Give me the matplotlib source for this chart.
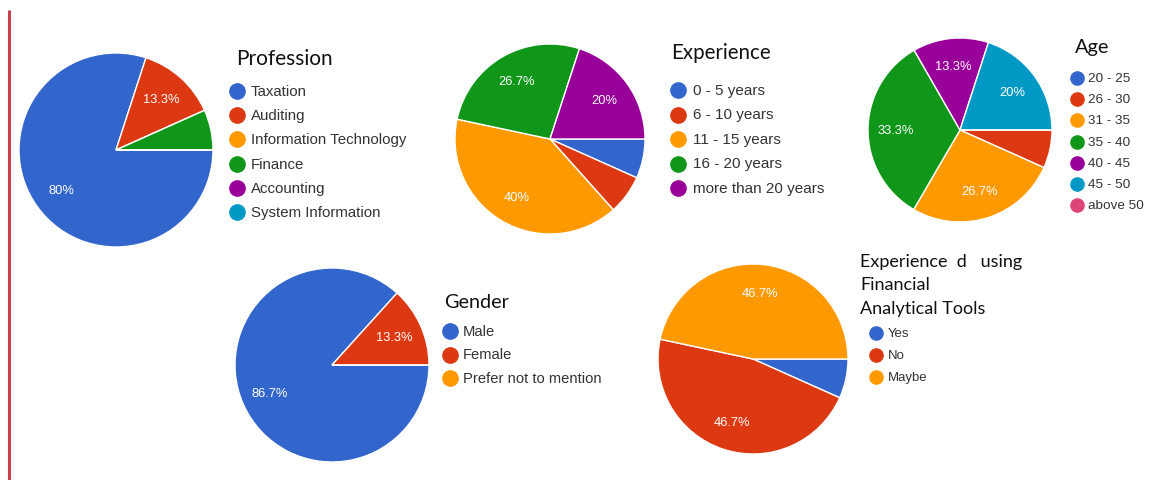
import matplotlib
matplotlib.use("Agg")
import matplotlib.pyplot as plt

W, H = 1155, 481

# Google Forms palette
BLUE, RED, ORANGE, GREEN = "#3366CC", "#DC3912", "#FF9900", "#109618"
PURPLE, TEAL, PINK = "#990099", "#0099C6", "#DD4477"

# Survey results (percent of 15 respondents)
profession_labels = ["Taxation", "Auditing", "Information Technology",
                     "Finance", "Accounting", "System Information"]
profession_values = [80.0, 13.3, 0.0, 6.7, 0.0, 0.0]
profession_colors = [BLUE, RED, ORANGE, GREEN, PURPLE, TEAL]

experience_labels = ["0 - 5 years", "6 - 10 years", "11 - 15 years",
                     "16 - 20 years", "more than 20 years"]
experience_values = [6.7, 6.7, 40.0, 26.7, 20.0]
experience_colors = [BLUE, RED, ORANGE, GREEN, PURPLE]

age_labels = ["20 - 25", "26 - 30", "31 - 35", "35 - 40", "40 - 45",
              "45 - 50", "above 50"]
age_values = [0.0, 6.7, 26.7, 33.3, 13.3, 20.0, 0.0]
age_colors = [BLUE, RED, ORANGE, GREEN, PURPLE, TEAL, PINK]

gender_labels = ["Male", "Female", "Prefer not to mention"]
gender_values = [86.7, 13.3, 0.0]
gender_colors = [BLUE, RED, ORANGE]

tools_labels = ["Yes", "No", "Maybe"]
tools_values = [6.7, 46.7, 46.7]
tools_colors = [BLUE, RED, ORANGE]

TITLE_FONT = "Lato"
BODY_FONT = "Liberation Sans"

fig = plt.figure(figsize=(W / 100, H / 100), dpi=100)
fig.patch.set_facecolor("white")

# pixel-space overlay for legends and the margin rule
overlay = fig.add_axes([0, 0, 1, 1])
overlay.set_xlim(0, W)
overlay.set_ylim(H, 0)
overlay.axis("off")
overlay.plot([9, 9], [11, H], color="#C9414C", lw=2.2, solid_capstyle="butt")


def pct_text(p):
    if p < 10:
        return ""
    s = f"{p:.1f}"
    if s.endswith(".0"):
        s = s[:-2]
    return s + "%"


def draw_pie(values, colors, cx, cy, r):
    ax = fig.add_axes([(cx - r) / W, 1 - (cy + r) / H, 2 * r / W, 2 * r / H])
    ax.pie(values, colors=colors, startangle=0, counterclock=False,
           radius=1.0, autopct=pct_text, pctdistance=0.70,
           wedgeprops=dict(edgecolor="white", linewidth=1.0),
           textprops=dict(color="white", fontsize=9.3, family=BODY_FONT))
    ax.set_xlim(-1.0, 1.0)
    ax.set_ylim(-1.0, 1.0)
    ax.axis("off")


def draw_legend(title_lines, labels, colors, tx, ty, mx, lx, y0, dy,
                title_size=14.5, text_size=10.8, ms=11, title_dy=23.5):
    for i, line in enumerate(title_lines):
        overlay.text(tx, ty + i * title_dy, line, fontsize=title_size,
                     family=TITLE_FONT, color="#111111", va="center", ha="left")
    for i, (lab, col) in enumerate(zip(labels, colors)):
        y = y0 + i * dy
        overlay.plot([mx], [y], marker="o", ms=ms, color=col, mec=col)
        overlay.text(lx, y, lab, fontsize=text_size, family=BODY_FONT,
                     color="#333333", va="center", ha="left")


# Profession
draw_pie(profession_values, profession_colors, 116, 151, 97)
draw_legend(["Profession"], profession_labels, profession_colors,
            236, 59, 237, 251, 92, 24.2, title_size=15)

# Experience
draw_pie(experience_values, experience_colors, 550, 140, 95)
draw_legend(["Experience"], experience_labels, experience_colors,
            671, 53, 678, 693, 91, 24.5, title_size=14.8, text_size=11)

# Age
draw_pie(age_values, age_colors, 960, 131, 92)
draw_legend(["Age"], age_labels, age_colors,
            1075, 47, 1077, 1088, 79, 21.2, title_size=14.3,
            text_size=9.7, ms=9.5)

# Gender
draw_pie(gender_values, gender_colors, 332, 366, 97)
draw_legend(["Gender"], gender_labels, gender_colors,
            444, 303, 450, 463, 332, 23.5, title_size=14.3, text_size=10.6)

# Financial analytical tools
draw_pie(tools_values, tools_colors, 753, 360, 95)
draw_legend(["Experience  d   using", "Financial", "Analytical Tools"],
            tools_labels, tools_colors,
            860, 262, 876, 888, 334, 22, title_size=13, text_size=9.5, ms=9.5)

fig.savefig("out.png", dpi=100, facecolor="white")
